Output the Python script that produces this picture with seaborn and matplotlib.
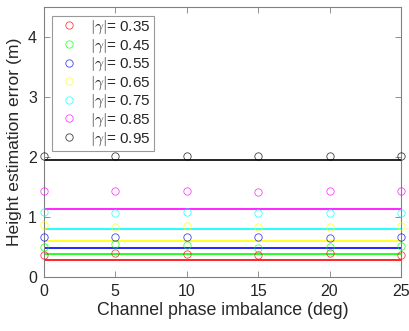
import numpy as np
import pandas as pd
import matplotlib
matplotlib.use("Agg")
import matplotlib.pyplot as plt
from matplotlib.lines import Line2D
import seaborn as sns

# Channel phase imbalance settings (deg)
phase_deg = [0, 5, 10, 15, 20, 25]

# Coherence magnitudes
gamma_labels = ["0.35", "0.45", "0.55", "0.65", "0.75", "0.85", "0.95"]

# Simulated height estimation error (m) for each |gamma|
err_035 = [0.372, 0.393, 0.388, 0.367, 0.400, 0.367]
err_045 = [0.505, 0.543, 0.527, 0.477, 0.500, 0.522]
err_055 = [0.660, 0.660, 0.667, 0.660, 0.650, 0.672]
err_065 = [0.860, 0.838, 0.855, 0.838, 0.838, 0.843]
err_075 = [1.083, 1.067, 1.077, 1.067, 1.067, 1.072]
err_085 = [1.438, 1.427, 1.427, 1.420, 1.438, 1.438]
err_095 = [2.020, 2.020, 2.015, 2.020, 2.025, 2.020]

# Theoretical error level for each |gamma|
theory_err = [0.288, 0.377, 0.477, 0.605, 0.793, 1.140, 1.955]

colors = ["#ff0000", "#00ff00", "#0000ff", "#ffff00", "#00ffff", "#ff00ff", "#000000"]

series = [err_035, err_045, err_055, err_065, err_075, err_085, err_095]

sns.set_style("white")
plt.rcParams["font.family"] = ["Liberation Sans", "DejaVu Sans"]
plt.rcParams["mathtext.fontset"] = "cm"

fig = plt.figure(figsize=(4.10, 3.31), dpi=100)
ax = fig.add_axes([0.107, 0.163, 0.871, 0.816])

x_span = [phase_deg[0], phase_deg[-1]]
for vals, level, col in zip(series, theory_err, colors):
    df = pd.DataFrame({"phase": phase_deg, "err": vals})
    sns.lineplot(data=df, x="phase", y="err", ax=ax, errorbar=None,
                 linestyle="", marker="o", markersize=5.3,
                 markerfacecolor="none", markeredgecolor=col,
                 markeredgewidth=0.6, color=col, alpha=0.75,
                 zorder=3, clip_on=False)
    dl = pd.DataFrame({"phase": x_span, "err": [level, level]})
    sns.lineplot(data=dl, x="phase", y="err", ax=ax, errorbar=None,
                 color=col, linewidth=1.2, zorder=2)

ax.set_xlim(0, 25)
ax.set_ylim(0, 4.5)
ax.set_xticks(phase_deg)
ax.set_yticks([0, 1, 2, 3, 4])
ax.set_xlabel("Channel phase imbalance (deg)", fontsize=12.8, color="#262626", labelpad=2)
ax.set_ylabel("Height estimation error (m)", fontsize=12.6, color="#262626", labelpad=4)
ax.tick_params(axis="both", which="both", direction="in", length=4,
               width=0.6, color="#808080", labelsize=11.5, labelcolor="#262626",
               top=True, right=True, bottom=True, left=True, pad=5)
for sp in ax.spines.values():
    sp.set_color("#808080")
    sp.set_linewidth(0.8)

handles = [Line2D([], [], linestyle="", marker="o", markersize=5.3, alpha=0.75,
                  markerfacecolor="none", markeredgecolor=c, markeredgewidth=0.6)
           for c in colors]
labels = [r"$|\gamma|$= " + g for g in gamma_labels]
leg = ax.legend(handles, labels, loc="upper left", bbox_to_anchor=(0.022, 0.968),
                borderaxespad=0, fontsize=11, frameon=True, fancybox=False,
                edgecolor="#808080", labelspacing=0.08, handlelength=1.8,
                handletextpad=0.5, borderpad=0.2)
leg.get_frame().set_linewidth(0.8)
leg.set_zorder(5)

fig.savefig("out.png", dpi=100)
